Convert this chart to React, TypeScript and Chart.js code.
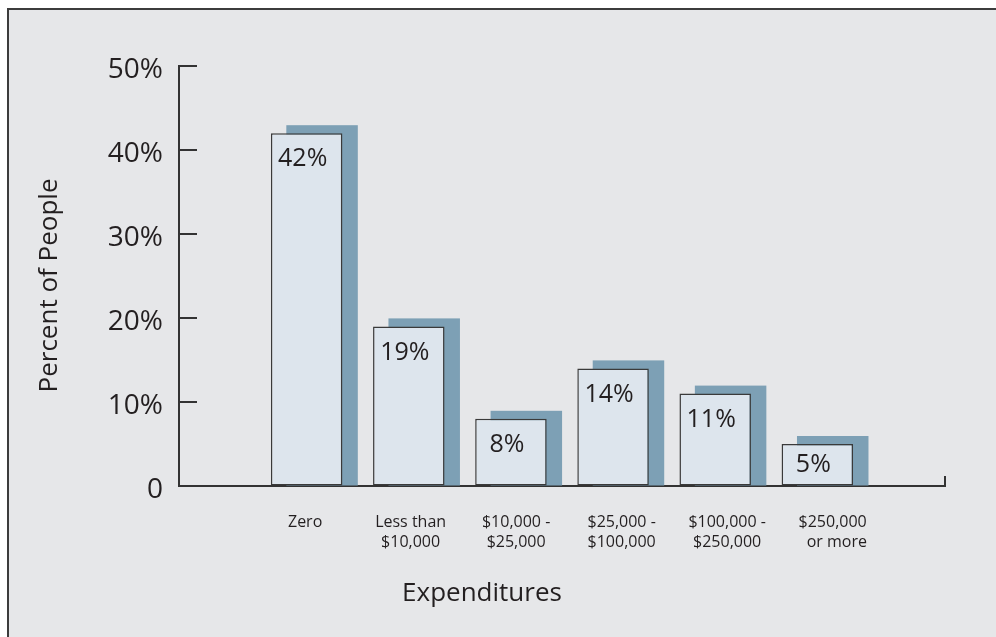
import React, { useEffect, useRef } from "react";
import { Chart, registerables } from "chart.js";

Chart.register(...registerables);

const CATEGORY_LABELS: string[][] = [
  ["Zero"],
  ["Less than", "$10,000"],
  ["$10,000 -", "$25,000"],
  ["$25,000 -", "$100,000"],
  ["$100,000 -", "$250,000"],
  ["$250,000", "  or more"],
];
const PERCENT_VALUES = [42, 19, 8, 14, 11, 5];
const Y_TICK_VALUES = [0, 10, 20, 30, 40, 50];
const Y_AXIS_TITLE = "Percent of People";
const X_AXIS_TITLE = "Expenditures";

const FONT = "'Open Sans', 'Noto Sans', sans-serif";
const TEXT = "#231f20";
const AXIS = "#333333";
const FRONT_FILL = "#dde5ed";
const SHADOW_FILL = "#7da0b5";
const BG = "#e6e7e9";

const SHADOW_DX = 15.4;
const SHADOW_DY = 8;
const LABEL_SPREAD = 1.033;
const LABEL_SHIFT = -0.015;

const shadowPlugin = {
  id: "barShadow",
  beforeDatasetsDraw(chart: any) {
    const ctx = chart.ctx;
    const meta = chart.getDatasetMeta(0);
    ctx.save();
    ctx.fillStyle = SHADOW_FILL;
    meta.data.forEach((bar: any) => {
      const { x, y, base, width } = bar.getProps(["x", "y", "base", "width"], true);
      const top = y - SHADOW_DY;
      ctx.fillRect(x - width / 2 + SHADOW_DX, top, width, base - top);
    });
    ctx.restore();
  },
  afterDatasetsDraw(chart: any) {
    const ctx = chart.ctx;
    const meta = chart.getDatasetMeta(0);
    ctx.save();
    ctx.fillStyle = TEXT;
    ctx.font = `25px ${FONT}`;
    ctx.textAlign = "center";
    ctx.textBaseline = "middle";
    meta.data.forEach((bar: any, i: number) => {
      const { x, y, base } = bar.getProps(["x", "y", "base"], true);
      const dy = Math.min(26, (base - y) / 2);
      ctx.fillText(`${PERCENT_VALUES[i]}%`, x - 4, y + dy);
    });
    ctx.restore();
  },
  afterDraw(chart: any) {
    const ctx = chart.ctx;
    const { left, right, bottom } = chart.chartArea;
    const yScale = chart.scales.y;
    ctx.save();
    ctx.strokeStyle = AXIS;
    ctx.lineWidth = 2;
    ctx.beginPath();
    Y_TICK_VALUES.forEach((v) => {
      const py = yScale.getPixelForValue(v);
      ctx.moveTo(left, py);
      ctx.lineTo(left + 18, py);
    });
    ctx.moveTo(right, bottom);
    ctx.lineTo(right, bottom - 10);
    ctx.stroke();

    ctx.fillStyle = TEXT;
    ctx.font = `26px ${FONT}`;
    ctx.textAlign = "center";
    ctx.textBaseline = "middle";
    ctx.fillText(X_AXIS_TITLE, 473, 584);
    ctx.translate(41, 275.5);
    ctx.rotate(-Math.PI / 2);
    ctx.fillText(Y_AXIS_TITLE, 0, 0);
    ctx.restore();
  },
};

export default function App() {
  const ref = useRef<HTMLCanvasElement | null>(null);

  useEffect(() => {
    if (!ref.current) return;
    const chart = new Chart(ref.current, {
      type: "bar",
      data: {
        datasets: [
          {
            data: PERCENT_VALUES.map((v, i) => ({ x: i, y: v })),
            backgroundColor: FRONT_FILL,
            borderColor: "#3a3a3a",
            borderWidth: 1.5,
            borderSkipped: false,
            barPercentage: 0.7,
            categoryPercentage: 1,
          },
        ],
      },
      options: {
        responsive: false,
        animation: false,
        layout: { padding: { top: 56, right: 51, left: 0, bottom: 0 } },
        plugins: {
          legend: { display: false },
          tooltip: { enabled: false },
          title: { display: false },
        },
        scales: {
          x: {
            type: "linear",
            min: -1.25,
            max: 6.25,
            offset: false,
            bounds: "ticks",
            grid: { display: true, drawOnChartArea: false, drawTicks: false, offset: false },
            border: { display: true, color: AXIS, width: 2 },
            afterBuildTicks: (axis: any) => {
              axis.ticks = CATEGORY_LABELS.map((_, i) => ({ value: i * LABEL_SPREAD + LABEL_SHIFT }));
            },
            afterFit: (axis: any) => {
              axis.height = 151;
            },
            ticks: {
              autoSkip: false,
              maxRotation: 0,
              minRotation: 0,
              padding: 26,
              color: TEXT,
              font: { family: FONT, size: 16, lineHeight: 1.25 },
              callback: (_v: any, index: number) => CATEGORY_LABELS[index],
            },
          },
          y: {
            type: "linear",
            min: 0,
            max: 50,
            grid: { display: true, drawOnChartArea: false, drawTicks: false },
            border: { display: true, color: AXIS, width: 2 },
            afterBuildTicks: (axis: any) => {
              axis.ticks = Y_TICK_VALUES.map((v) => ({ value: v }));
            },
            afterFit: (axis: any) => {
              axis.width = 170;
            },
            ticks: {
              padding: 16,
              labelOffset: 4,
              color: TEXT,
              font: { family: FONT, size: 28 },
              callback: (v: any) => (Number(v) === 0 ? "0" : `${v}%`),
            },
          },
        },
      },
      plugins: [shadowPlugin],
    });
    return () => chart.destroy();
  }, []);

  return (
    <div
      style={{
        position: "fixed",
        left: 0,
        top: 0,
        width: 996,
        height: 637,
        background: "#ffffff",
        overflow: "hidden",
      }}
    >
      <div
        style={{
          position: "absolute",
          left: 7,
          top: 8,
          right: 0,
          bottom: 0,
          borderLeft: "2px solid #3c3c3c",
          borderTop: "2px solid #3c3c3c",
          background: BG,
        }}
      >
        <canvas
          ref={ref}
          width={987}
          height={627}
          style={{ position: "absolute", left: 0, top: 0, width: 987, height: 627 }}
        />
      </div>
    </div>
  );
}
